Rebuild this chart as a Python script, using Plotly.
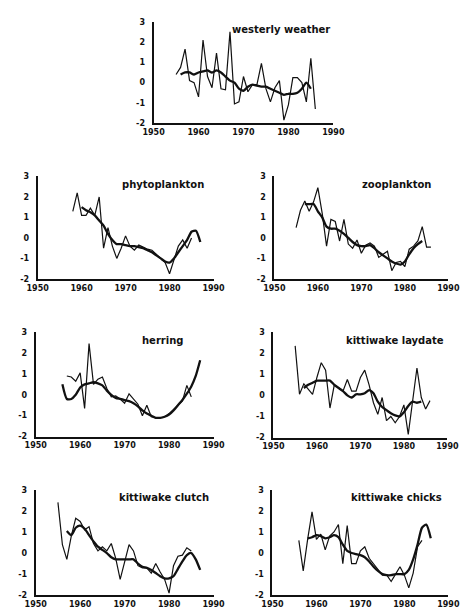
import plotly.graph_objects as go

W, H = 467, 614

# ---- series: annual values (thin) and smoothed trend (thick) ----
westerly_years = list(range(1955, 1987))
westerly_annual = [0.4, 0.75, 1.65, 0.1, 0.0, -0.7, 2.1, 0.3, -0.25, 1.45, -0.3, -0.35,
                   2.5, -1.05, -0.95, 0.3, -0.45, -0.1, -0.1, 0.95, -0.3, -0.95, -0.25, 0.1,
                   -1.85, -1.1, 0.25, 0.25, 0.0, -0.95, 1.2, -1.3]
westerly_trend_years = list(range(1956, 1986))
westerly_trend = [0.4, 0.5, 0.5, 0.4, 0.5, 0.55, 0.6, 0.5, 0.6, 0.5, 0.3, 0.1, 0.0, -0.3,
                  -0.4, -0.2, -0.1, -0.15, -0.2, -0.2, -0.3, -0.4, -0.5, -0.6, -0.55, -0.55,
                  -0.5, -0.3, 0.0, -0.3]

phyto_years = list(range(1958, 1986))
phyto_annual = [1.3, 2.2, 1.1, 1.1, 1.45, 1.1, 2.0, -0.5, 0.5, -0.4, -1.0, -0.5, 0.1, -0.4,
                -0.6, -0.35, -0.45, -0.55, -0.6, -0.8, -1.0, -1.2, -1.75, -1.1, -0.4, -0.1,
                -0.5, 0.0]
phyto_trend_years = list(range(1960, 1988))
phyto_trend = [1.5, 1.35, 1.25, 1.1, 0.85, 0.6, 0.2, -0.1, -0.3, -0.3, -0.35, -0.4, -0.4,
               -0.45, -0.5, -0.6, -0.7, -0.85, -1.0, -1.15, -1.2, -1.0, -0.7, -0.4, -0.1,
               0.3, 0.35, -0.2]

zoo_years = list(range(1955, 1987))
zoo_annual = [0.5, 1.35, 1.8, 1.3, 1.75, 2.45, 1.2, -0.4, 0.9, 0.8, -0.15, 0.9, -0.3, -0.5,
              -0.1, -0.75, -0.35, -0.25, -0.4, -0.95, -0.8, -0.65, -1.6, -1.2, -1.15, -1.4,
              -0.55, -0.4, -0.15, 0.55, -0.45, -0.45]
zoo_trend_years = list(range(1957, 1985))
zoo_trend = [1.65, 1.65, 1.65, 1.3, 1.0, 0.55, 0.45, 0.45, 0.35, 0.2, 0.0, -0.2, -0.35,
             -0.4, -0.4, -0.35, -0.5, -0.7, -0.85, -1.0, -1.15, -1.25, -1.3, -1.15, -0.8,
             -0.5, -0.3, -0.15]

herring_years = list(range(1957, 1986))
herring_annual = [0.9, 0.85, 0.65, 1.05, -0.65, 2.45, 0.5, 0.75, 0.85, 0.3, -0.1, -0.05,
                  -0.2, -0.4, 0.05, -0.2, -0.45, -1.0, -0.5, -1.05, -1.1, -1.1, -1.05, -0.9,
                  -0.7, -0.5, -0.3, 0.45, -0.1]
herring_trend_years = list(range(1956, 1988))
herring_trend = [0.5, -0.2, -0.2, 0.0, 0.35, 0.5, 0.55, 0.6, 0.55, 0.45, 0.2, 0.0, -0.15,
                 -0.2, -0.25, -0.3, -0.4, -0.55, -0.75, -0.9, -1.0, -1.1, -1.1, -1.05, -0.95,
                 -0.75, -0.5, -0.25, 0.05, 0.4, 0.9, 1.65]

laydate_years = list(range(1955, 1987))
laydate_annual = [2.35, 0.05, 0.55, 0.3, 0.05, 0.85, 1.55, 1.2, -0.6, 0.5, 0.35, 0.2, 0.75,
                  0.2, 0.2, 0.85, 1.2, 0.5, -0.35, -0.9, -0.1, -1.2, -1.0, -1.3, -1.0, -0.45,
                  -1.85, -0.4, 1.3, -0.1, -0.65, -0.25]
laydate_trend_years = list(range(1957, 1985))
laydate_trend = [0.35, 0.5, 0.6, 0.7, 0.7, 0.7, 0.7, 0.5, 0.35, 0.2, 0.0, -0.1, 0.05, 0.05,
                 0.1, 0.25, 0.1, -0.3, -0.55, -0.7, -0.85, -0.95, -1.0, -0.8, -0.5, -0.3,
                 -0.35, -0.3]

clutch_years = list(range(1955, 1986))
clutch_annual = [2.4, 0.4, -0.3, 0.8, 1.65, 1.5, 1.1, 1.25, 0.45, 0.1, 0.3, 0.1, 0.45,
                 -0.25, -1.25, -0.4, 0.4, 0.1, -0.6, -0.7, -0.7, -0.95, -0.5, -0.9, -1.25,
                 -1.9, -0.6, -0.15, -0.1, 0.25, 0.1]
clutch_trend_years = list(range(1957, 1988))
clutch_trend = [1.05, 0.85, 1.2, 1.3, 1.15, 0.85, 0.55, 0.3, 0.15, 0.0, -0.2, -0.3, -0.3,
                -0.3, -0.3, -0.3, -0.5, -0.65, -0.7, -0.8, -0.95, -1.1, -1.2, -1.2, -1.1,
                -0.75, -0.4, -0.1, 0.0, -0.3, -0.8]

chicks_years = list(range(1956, 1985))
chicks_annual = [0.6, -0.85, 0.65, 1.95, 0.65, 0.9, 0.15, 0.8, 1.0, 1.35, -0.5, 1.3, -0.5,
                 -0.5, 0.1, 0.3, -0.25, -0.5, -0.75, -1.05, -1.05, -1.35, -1.0, -0.65, -1.05,
                 -1.65, -0.95, 0.3, 0.6]
chicks_trend_years = list(range(1958, 1987))
chicks_trend = [0.7, 0.75, 0.85, 0.8, 0.7, 0.75, 0.85, 0.75, 0.4, 0.1, 0.0, -0.05, -0.1,
                -0.2, -0.4, -0.65, -0.85, -1.0, -1.05, -1.05, -1.0, -1.0, -1.0, -0.8, -0.3,
                0.4, 1.2, 1.35, 0.7]

x_ticks = [1950, 1960, 1970, 1980, 1990]
x_tick_text = ["1950", "1960", "1970", "1980", "1990"]
y_ticks = [-2, -1, 0, 1, 2, 3]
y_tick_text = ["-2", "-1", "0", "1", "2", "3"]

panels = [
    ("westerly weather", westerly_years, westerly_annual, westerly_trend_years, westerly_trend),
    ("phytoplankton", phyto_years, phyto_annual, phyto_trend_years, phyto_trend),
    ("zooplankton", zoo_years, zoo_annual, zoo_trend_years, zoo_trend),
    ("herring", herring_years, herring_annual, herring_trend_years, herring_trend),
    ("kittiwake laydate", laydate_years, laydate_annual, laydate_trend_years, laydate_trend),
    ("kittiwake clutch", clutch_years, clutch_annual, clutch_trend_years, clutch_trend),
    ("kittiwake chicks", chicks_years, chicks_annual, chicks_trend_years, chicks_trend),
]

# plot-area boxes in pixels: left (1950), right (1990), top (y=3), bottom (y=-2),
# followed by the right edge of the panel title
boxes = [
    (150, 339, 18, 121, 338),
    (28, 213, 175, 279, 205),
    (277, 460, 175, 279, 444),
    (26, 213, 333, 439, 183),
    (276, 459, 333, 440, 458),
    (26, 213, 493, 600, 210),
    (275, 460, 493, 600, 455),
]

INK = "#111111"
FONT = "DejaVu Sans"

fig = go.Figure()
layout = {}
annotations = []

for i, ((title, yrs, vals, tyrs, tvals), (l, r, t, b, tr)) in enumerate(zip(panels, boxes)):
    n = i + 1
    xa = "x" if n == 1 else f"x{n}"
    ya = "y" if n == 1 else f"y{n}"
    fig.add_trace(go.Scatter(x=yrs, y=vals, mode="lines", xaxis=xa, yaxis=ya,
                             line=dict(color=INK, width=1.2), showlegend=False,
                             hoverinfo="skip"))
    fig.add_trace(go.Scatter(x=tyrs, y=tvals, mode="lines", xaxis=xa, yaxis=ya,
                             line=dict(color=INK, width=2.3, shape="spline", smoothing=0.6),
                             showlegend=False, hoverinfo="skip"))
    xkey = "xaxis" if n == 1 else f"xaxis{n}"
    ykey = "yaxis" if n == 1 else f"yaxis{n}"
    layout[xkey] = dict(
        domain=[l / W, r / W], anchor=ya, range=[1950, 1990],
        tickvals=x_ticks, ticktext=x_tick_text, ticks="", showgrid=False, zeroline=False,
        showline=True, linecolor=INK, linewidth=2,
        tickfont=dict(family=FONT, size=8, color=INK, weight="bold"),
        ticklabelstandoff=0, fixedrange=True,
    )
    layout[ykey] = dict(
        domain=[1 - b / H, 1 - t / H], anchor=xa, range=[-2, 3],
        tickvals=y_ticks, ticktext=y_tick_text, ticks="", showgrid=False, zeroline=False,
        showline=True, linecolor=INK, linewidth=2,
        tickfont=dict(family=FONT, size=8, color=INK, weight="bold"),
        ticklabelstandoff=5, fixedrange=True,
    )
    annotations.append(dict(
        text=title, xref="paper", yref="paper", x=tr / W, y=1 - (t + 8) / H,
        xanchor="right", yanchor="middle", showarrow=False,
        font=dict(family=FONT, size=10, color=INK, weight="bold"),
    ))

fig.update_layout(
    width=W, height=H, margin=dict(l=0, r=0, t=0, b=0),
    paper_bgcolor="white", plot_bgcolor="white",
    annotations=annotations, **layout,
)

fig.write_html("out.html")
